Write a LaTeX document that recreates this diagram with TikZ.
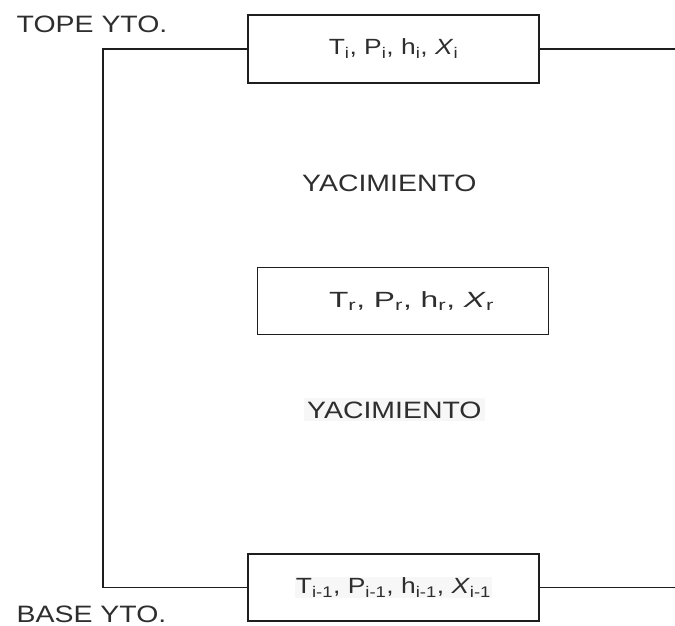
\documentclass[tikz,border=0pt]{standalone}
\usepackage{fontspec}
\setmainfont{Liberation Sans}[FakeStretch=1.2]
\usepackage{xcolor}
\usepackage{graphicx}
\definecolor{txt}{HTML}{2E2E2E}
\definecolor{ln}{HTML}{1E1E1E}
\definecolor{hl}{HTML}{F7F7F7}
\tikzset{
  valbox/.style={draw=ln, line width=1.3pt, rectangle, minimum width=291pt, inner sep=0pt, text=txt, font=\fontsize{22}{26}\selectfont},
  lbl/.style={inner sep=0pt, text=txt, font=\fontsize{23.7}{28}\selectfont},
  wire/.style={draw=ln, line width=1.3pt}
}
\begin{document}
\begin{tikzpicture}[x=1pt,y=-1pt]
\useasboundingbox (0,0) rectangle (675,626);
\node[valbox, minimum height=68pt] (tbox) at (393.5,49)
  {T\textsubscript{i}, P\textsubscript{i}, h\textsubscript{i}, \textit{X}\textsubscript{i}};
\node[valbox, minimum height=67pt] (mbox) at (403,301)
  {\hspace{17pt}\scalebox{1.2}[1]{T\textsubscript{r}, P\textsubscript{r}, h\textsubscript{r}, \textit{X}\textsubscript{r}}};
\node[valbox, minimum height=67pt] (bbox) at (393.5,587.5)
  {\setlength{\fboxsep}{1pt}\colorbox{hl}{T\textsubscript{i-1}, P\textsubscript{i-1}, h\textsubscript{i-1}, \textit{X}\textsubscript{i-1}}\hspace{16pt}};
\node[lbl, anchor=base west] (tope) at (16.5,33) {TOPE YTO.};
\node[lbl, anchor=base west] (base) at (16.5,622) {BASE YTO.};
\node[lbl, anchor=base west] (yac1) at (302,191) {YACIMIENTO};
\node[lbl, anchor=base west, fill=hl, inner sep=3pt] (yac2) at (304,418) {YACIMIENTO};
\coordinate (tl) at (103,49);
\coordinate (bl) at (103,587.5);
\coordinate (tr) at (675,49);
\coordinate (br) at (675,587.5);
\draw[wire] (tbox.west) -- (tl) -- (bl) -- (bbox.west);
\draw[wire] (tbox.east) -- (tr);
\draw[wire] (bbox.east) -- (br);
\end{tikzpicture}
\end{document}
